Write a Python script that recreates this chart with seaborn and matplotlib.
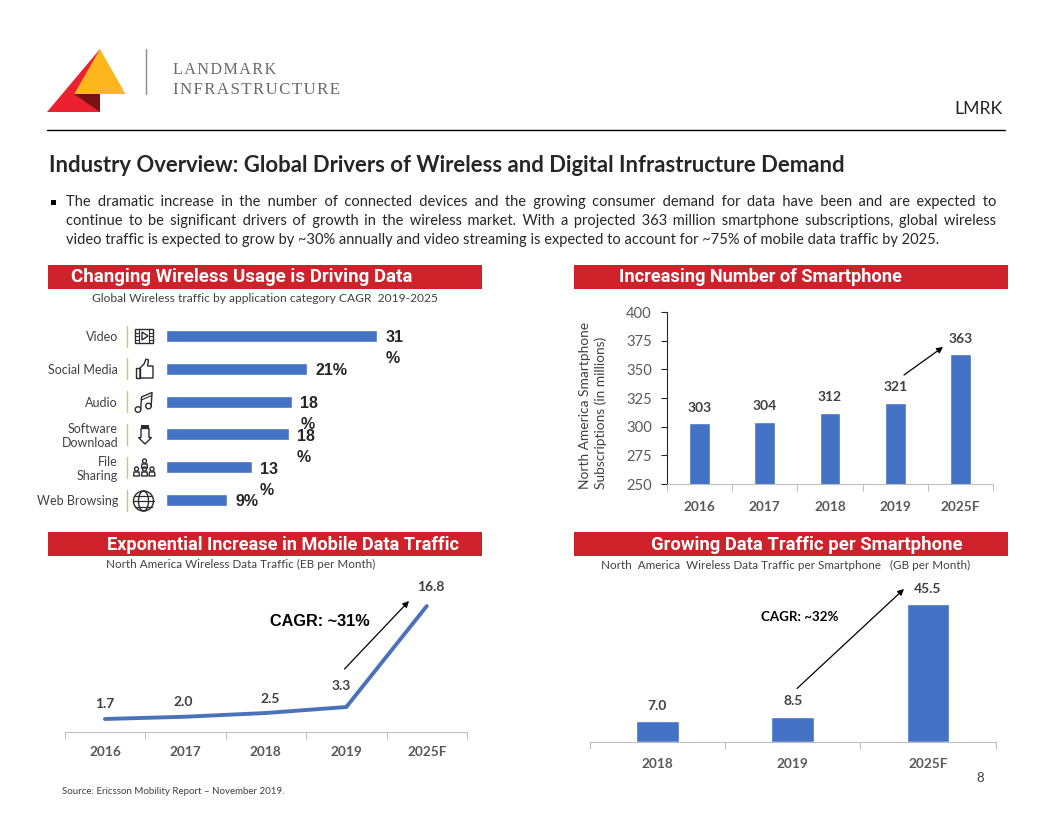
import numpy as np
import pandas as pd
import matplotlib
matplotlib.use('Agg')
import matplotlib.pyplot as plt
from matplotlib.patches import Polygon, Rectangle, Circle, Ellipse
import seaborn as sns

# data
usage_cats = ['Video', 'Social Media', 'Audio', 'Software\nDownload', 'File\nSharing', 'Web Browsing']
usage_vals = [31, 20.7, 18.5, 18.0, 12.6, 9.0]
usage_lbls = ['31\n%', '21%', '18\n%', '18\n%', '13\n%', '9%']

phone_years = ['2016', '2017', '2018', '2019', '2025F']
phone_vals = [303, 304, 312, 321, 363]

traffic_years = ['2016', '2017', '2018', '2019', '2025F']
traffic_vals = [1.7, 2.0, 2.5, 3.3, 16.8]

per_phone_years = ['2018', '2019', '2025F']
per_phone_vals = [7.0, 8.5, 45.5]

body_lines = [
    'The dramatic increase in the number of connected devices and the growing consumer demand for data have been and are expected to',
    'continue to be significant drivers of growth in the wireless market. With a projected 363 million smartphone subscriptions, global wireless',
    'video traffic is expected to grow by ~30% annually and video streaming is expected to account for ~75% of mobile data traffic by 2025.',
]

W, H = 1056, 816
BLUE = '#4472C4'
RED = '#CF2129'
GRAY = '#595959'
DARK = '#404040'
HAIR = '\u200a'

sns.set_theme(style='white')
plt.rcParams['font.family'] = ['Lato', 'DejaVu Sans']

fig = plt.figure(figsize=(W / 100, H / 100), dpi=100)
rend = fig.canvas.get_renderer()

# overlay in pixel coords, for the slide furniture
ov = fig.add_axes([0, 0, 1, 1], zorder=10)
ov.set_xlim(0, W)
ov.set_ylim(H, 0)
ov.axis('off')


def px_axes(x0, y0, x1, y1):
    return fig.add_axes([x0 / W, 1 - y1 / H, (x1 - x0) / W, (y1 - y0) / H])


def text_w(t, s=None):
    if s is not None:
        t.set_text(s)
    return t.get_window_extent(rend).width


def fit_text(x0, x1, y, s, size=10, **kw):
    # pick the font size which makes the string span x0..x1
    t = ov.text(x0, y, s, fontsize=size, va='center', ha='left', **kw)
    for _ in range(3):
        t.set_fontsize(t.get_fontsize() * (x1 - x0) / text_w(t))
    return t


def justify_line(x0, x1, y, s, size, **kw):
    # widen the word gaps with hair spaces until the line spans x0..x1
    t = ov.text(x0, y, s, fontsize=size, va='center', ha='left', **kw)
    w = text_w(t)
    hair = (text_w(t, '|' + HAIR * 20 + '|') - text_w(t, '||')) / 20
    gaps = s.count(' ')
    extra = int(round((x1 - x0 - w) / hair))
    words = s.split(' ')
    out = words[0]
    done = 0
    for i in range(gaps):
        n = round((i + 1) * extra / gaps) - done
        done += n
        out += ' ' + HAIR * n + words[i + 1]
    t.set_text(out)
    return t


def style_cat_axis(ax, n, pad):
    ax.set_xlim(-0.5, n - 0.5)
    ax.set_xticks(np.arange(-0.5, n), minor=True)
    ax.tick_params(axis='x', which='minor', length=5, width=0.8, color='#BFBFBF', bottom=True)
    ax.tick_params(axis='x', which='major', length=0, pad=pad, labelsize=9.8, labelcolor=GRAY)
    for t in ax.get_xticklabels():
        t.set_fontweight('bold')
    ax.spines['bottom'].set_color('#BFBFBF')
    ax.spines['bottom'].set_linewidth(0.8)
    ax.set_xlabel('')
    ax.set_ylabel('')


def value_labels(ax, xs, ys, texts, offs):
    for x, y, s, (dx, dy) in zip(xs, ys, texts, offs):
        ax.annotate(s, (x, y), xytext=(dx * 0.72, dy * 0.72), textcoords='offset points',
                    ha='center', va='center', fontsize=10, fontweight='bold', color=DARK)


def arrow(xy, xytext):
    ov.annotate('', xy=xy, xytext=xytext,
                arrowprops=dict(arrowstyle='-|>', color='black', lw=0.9, shrinkA=0, shrinkB=0,
                                mutation_scale=9))


# logo
ov.add_patch(Polygon([(47, 112), (100, 49), (100, 112)], color='#EC2130', lw=0))
ov.add_patch(Polygon([(74.3, 94), (100, 94), (100, 112)], color='#7A1214', lw=0))
ov.add_patch(Polygon([(100, 49), (125.5, 94), (74.3, 94)], color='#FDB71C', lw=0))
ov.plot([145.7, 145.7], [49, 94], color='#8C8C8C', lw=1)
logo_serif = ['Liberation Serif', 'DejaVu Serif']
fit_text(173, 275.5, 69.5, HAIR.join('LANDMARK'), family=logo_serif, color='#6A6A6A')
fit_text(173, 339, 89.5, HAIR.join('INFRASTRUCTURE'), family=logo_serif, color='#6A6A6A')

ov.text(1003, 109.5, 'LMRK', ha='right', va='center', fontsize=12.7, color='#262626')
ov.plot([47, 1005], [130, 130], color='black', lw=1)

# title + body
fit_text(49, 845, 165, 'Industry Overview: Global Drivers of Wireless and Digital Infrastructure Demand',
         fontweight='bold', color='#262626')
ov.add_patch(Rectangle((50.5, 199.5), 5, 5, color='black', lw=0))
t3 = fit_text(66, 935, 240, body_lines[2], color='#262626')
body_size = t3.get_fontsize()
justify_line(66, 996, 202, body_lines[0], body_size, color='#262626')
justify_line(66, 996, 221, body_lines[1], body_size, color='#262626')

# red banners
banners = [
    (48, 265, 71, 412, 'Changing Wireless Usage is Driving Data'),
    (574, 265, 619, 903, 'Increasing Number of Smartphone'),
    (48, 532, 107, 457, 'Exponential Increase in Mobile Data Traffic'),
    (574, 532, 651, 960, 'Growing Data Traffic per Smartphone'),
]
for bx, by, tx0, tx1, s in banners:
    ov.add_patch(Rectangle((bx, by), 434, 24, color=RED, lw=0))
    fit_text(tx0, tx1, by + 12.5, s, family=['Roboto', 'DejaVu Sans'], fontweight='bold', color='white')

# subtitles
head_font = ['Liberation Sans', 'DejaVu Sans']
fit_text(92, 439, 298.5, 'Global Wireless traffic by application category CAGR  2019-2025', color=DARK)
fit_text(106, 373, 564.5, 'North America Wireless Data Traffic (EB per Month)', color=DARK)
fit_text(601, 971, 565.5, 'North  America  Wireless Data Traffic per Smartphone   (GB per Month)', color=DARK)
fit_text(62, 285, 791, 'Source: Ericsson Mobility Report \u2013 November 2019.', color=DARK)
ov.text(980, 778, '8', ha='center', va='center', fontsize=9.5, color=DARK)

# chart 1: usage bars
ax1 = px_axes(166, 319.6, 466, 516.4)
df1 = pd.DataFrame({'cat': usage_cats, 'val': usage_vals})
sns.barplot(data=df1, y='cat', x='val', color=BLUE, saturation=1, width=0.37, ax=ax1)
ax1.set_xlim(0, 300 / 6.806)
ax1.set_ylim(5.5, -0.5)
sns.despine(ax=ax1, left=True, bottom=True)
ax1.set_xticks([])
ax1.set_xlabel('')
ax1.set_ylabel('')
ax1.tick_params(axis='y', length=0, pad=34.5, labelsize=9.0, labelcolor=DARK)
for t in ax1.get_yticklabels():
    t.set_multialignment('right')
    t.set_linespacing(1.15)
for i, (v, s) in enumerate(zip(usage_vals, usage_lbls)):
    ax1.annotate(s, (v, i), xytext=(6, 4), textcoords='offset points', ha='left', va='top',
                 fontsize=11.5, fontweight='bold', color='#262626', family=head_font,
                 linespacing=1.5, annotation_clip=False)
    ov.plot([126.5, 126.5], [336 + 32.8 * i - 10.5, 336 + 32.8 * i + 10.5], color='#E9BE5A', lw=1)

# icons, rough line drawings
ic = {'color': '#2B2B2B', 'lw': 1.0, 'fill': False}
ov.add_patch(Rectangle((135, 329), 18, 14, **ic))
for xx in (139, 149):
    ov.plot([xx, xx], [329, 343], color='#2B2B2B', lw=0.8)
for yy in (332.5, 336, 339.5):
    ov.plot([135, 139], [yy, yy], color='#2B2B2B', lw=0.7)
    ov.plot([149, 153], [yy, yy], color='#2B2B2B', lw=0.7)
ov.add_patch(Polygon([(142, 332), (142, 340), (148, 336)], **ic))
ov.add_patch(Rectangle((135.5, 368), 4.5, 10, **ic))
ov.add_patch(Polygon([(140, 368), (144, 364), (146, 359), (148.5, 360), (147.5, 366),
                      (153, 366), (153, 378), (140, 378)], **ic))
ov.add_patch(Circle((138, 409.5), 2.8, **ic))
ov.add_patch(Circle((148.5, 406), 2.8, **ic))
ov.plot([140.7, 141.5, 152, 151.2], [409.5, 397, 392.5, 406], color='#2B2B2B', lw=1)
ov.plot([141.3, 151.8], [400, 395.5], color='#2B2B2B', lw=0.8)
ov.add_patch(Rectangle((141, 425), 8, 3.5, color='#2B2B2B', lw=0))
ov.add_patch(Polygon([(141, 428.5), (149, 428.5), (149, 437.5), (151.5, 437.5), (145, 444),
                      (138.5, 437.5), (141, 437.5)], **ic))
for px, py in [(144.5, 461), (136.5, 469), (144.5, 469), (152, 469)]:
    ov.add_patch(Circle((px, py), 2, **ic))
    ov.add_patch(Polygon([(px - 3, py + 7), (px - 2.5, py + 3), (px + 2.5, py + 3), (px + 3, py + 7)], **ic))
ov.add_patch(Circle((143.5, 501), 10, **ic))
ov.add_patch(Ellipse((143.5, 501), 10, 20, **ic))
ov.plot([133.5, 153.5], [501, 501], color='#2B2B2B', lw=0.9)
ov.plot([135, 152], [495.5, 495.5], color='#2B2B2B', lw=0.9)
ov.plot([135, 152], [506.5, 506.5], color='#2B2B2B', lw=0.9)

# chart 2: smartphones
ax2 = px_axes(667, 312, 993, 484)
df2 = pd.DataFrame({'year': phone_years, 'val': phone_vals})
sns.barplot(data=df2, x='year', y='val', color=BLUE, saturation=1, width=0.32, ax=ax2)
ax2.set_ylim(250, 400)
ax2.set_yticks(np.arange(250, 401, 25))
sns.despine(ax=ax2)
style_cat_axis(ax2, 5, pad=12)
ax2.spines['left'].set_color('#262626')
ax2.spines['left'].set_linewidth(0.8)
ax2.tick_params(axis='y', left=True, length=4.5, width=0.8, color='#262626', pad=6.5,
                labelsize=10.6, labelcolor=GRAY)
ax2.set_ylabel('North America Smartphone\nSubscriptions (in millions)', fontsize=9.9, color=DARK,
               va='center', ma='left', linespacing=1.35)
ax2.yaxis.set_label_coords((593 - 667) / 326, (484 - 405) / 172)
value_labels(ax2, range(5), phone_vals, phone_vals,
             [(0, 15), (0, 16), (0, 16), (0, 16), (0, 15)])
arrow((943, 347), (904, 375))

# chart 3: traffic line
ax3 = px_axes(64.7, 596, 467, 731.7)
df3 = pd.DataFrame({'year': traffic_years, 'val': traffic_vals})
sns.lineplot(data=df3, x='year', y='val', color='#4A72B8', lw=2.8, sort=False, ax=ax3)
ax3.set_ylim(0, 18.14)
ax3.set_yticks([])
sns.despine(ax=ax3, left=True)
style_cat_axis(ax3, 5, pad=10.5)
value_labels(ax3, range(5), traffic_vals, ['%.1f' % v for v in traffic_vals],
             [(0, 15), (-2, 15), (4, 14), (-5, 21), (4, 19)])
arrow((409, 601), (344.5, 669))
ov.text(320, 621, 'CAGR: ~31%', ha='center', va='center', fontsize=11.7, fontweight='bold',
        family=head_font, color='black')

# chart 4: per smartphone
ax4 = px_axes(589.7, 595, 995.7, 742.3)
df4 = pd.DataFrame({'year': per_phone_years, 'val': per_phone_vals})
sns.barplot(data=df4, x='year', y='val', color=BLUE, saturation=1, width=0.317, ax=ax4)
ax4.set_ylim(0, 48.6)
ax4.set_yticks([])
sns.despine(ax=ax4, left=True)
style_cat_axis(ax4, 3, pad=11)
value_labels(ax4, range(3), per_phone_vals, ['%.1f' % v for v in per_phone_vals],
             [(0, 15), (0, 16), (0, 15)])
arrow((904, 589), (797, 688.5))
ov.text(800, 617, 'CAGR: ~32%', ha='center', va='center', fontsize=9.6, fontweight='bold', color='black')

fig.savefig('out.png', dpi=100, facecolor='white')
